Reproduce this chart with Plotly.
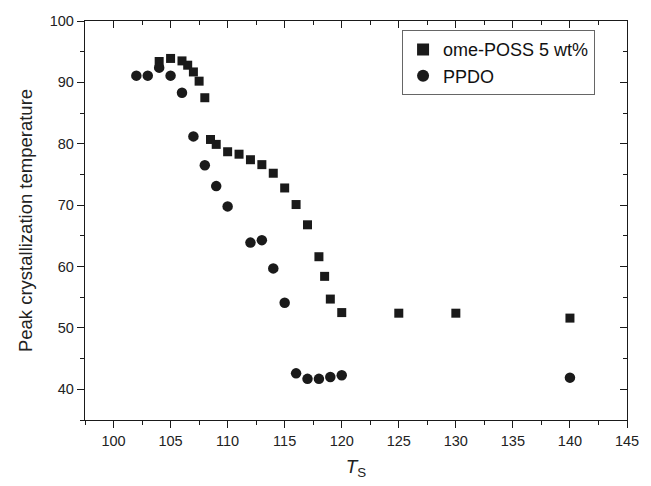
import plotly.graph_objects as go

# Data
poss_x = [104, 105, 106, 106.5, 107, 107.5, 108, 108.5, 109, 110, 111, 112, 113, 114, 115, 116, 117, 118, 118.5, 119, 120, 125, 130, 140]
poss_y = [93.4, 93.9, 93.5, 92.8, 91.7, 90.2, 87.5, 80.7, 79.9, 78.7, 78.3, 77.4, 76.6, 75.2, 72.8, 70.1, 66.8, 61.6, 58.4, 54.7, 52.5, 52.4, 52.4, 51.6]

ppdo_x = [102, 103, 104, 105, 106, 107, 108, 109, 110, 112, 113, 114, 115, 116, 117, 118, 119, 120, 140]
ppdo_y = [91.1, 91.1, 92.4, 91.1, 88.3, 81.2, 76.5, 73.1, 69.8, 63.9, 64.3, 59.7, 54.1, 42.6, 41.7, 41.7, 42.0, 42.3, 41.9]

x_ticks = [100, 105, 110, 115, 120, 125, 130, 135, 140, 145]
y_ticks = [40, 50, 60, 70, 80, 90, 100]
x_range = [97.5, 145]
y_range = [35, 100]

FONT = "Liberation Sans, Arial, sans-serif"
INK = "#1a1a1a"

fig = go.Figure()
fig.add_trace(go.Scatter(x=poss_x, y=poss_y, mode="markers", name="ome-POSS 5 wt%",
                         marker=dict(symbol="square", size=9, color=INK)))
fig.add_trace(go.Scatter(x=ppdo_x, y=ppdo_y, mode="markers", name="PPDO",
                         marker=dict(symbol="circle", size=10.5, color=INK)))

axis_common = dict(showgrid=False, zeroline=False, showline=True, linecolor=INK, linewidth=1.3,
                   tickcolor=INK, tickwidth=1.2, tickfont=dict(family=FONT, size=14.5, color="#222"))

fig.update_layout(
    width=651, height=486,
    margin=dict(l=85, r=14, t=21, b=63),
    paper_bgcolor="white", plot_bgcolor="white",
    font=dict(family=FONT, color="#222"),
    showlegend=True,
    legend=dict(x=0.585, y=0.977, xanchor="left", yanchor="top",
                bordercolor="#666", borderwidth=1, bgcolor="white",
                font=dict(family=FONT, size=18, color="#111"),
                itemsizing="constant", tracegroupgap=0,
                itemwidth=30),
    xaxis=dict(range=x_range, tickvals=x_ticks, ticks="outside", ticklen=7,
               minor=dict(dtick=2.5, ticks="outside", ticklen=4, tickcolor=INK, tickwidth=1.2),
               title=dict(text="<i>T</i><sub>S</sub>", font=dict(family=FONT, size=19), standoff=12),
               **axis_common),
    yaxis=dict(range=y_range, tickvals=y_ticks, ticks="outside", ticklen=7,
               minor=dict(dtick=5, ticks="outside", ticklen=4, tickcolor=INK, tickwidth=1.2),
               title=dict(text="Peak crystallization temperature", font=dict(family=FONT, size=18.5), standoff=12),
               **axis_common),
    xaxis2=dict(range=x_range, overlaying="x", side="top", tickvals=x_ticks, ticks="inside", ticklen=7,
                showticklabels=False, anchor="y",
                minor=dict(dtick=2.5, ticks="inside", ticklen=4, tickcolor=INK, tickwidth=1.2),
                **axis_common),
    yaxis2=dict(range=y_range, overlaying="y", side="right", tickvals=y_ticks, ticks="inside", ticklen=7,
                showticklabels=False, anchor="x",
                minor=dict(dtick=5, ticks="inside", ticklen=4, tickcolor=INK, tickwidth=1.2),
                **axis_common),
)
# invisible trace to activate the mirrored axes
fig.add_trace(go.Scatter(x=[x_range[0]], y=[y_range[0]], xaxis="x2", yaxis="y2", mode="markers",
                         marker=dict(opacity=0), showlegend=False, hoverinfo="skip"))

fig.write_html("out.html", config={"displayModeBar": False},
               post_script="document.body.style.margin='0';document.body.style.overflow='hidden';")
